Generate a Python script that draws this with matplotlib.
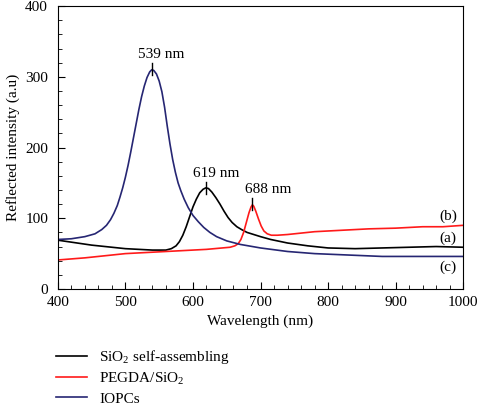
import numpy as np
import matplotlib
matplotlib.use("Agg")
import matplotlib.pyplot as plt

plt.rcParams['font.family'] = ['Liberation Serif', 'DejaVu Serif']
plt.rcParams['mathtext.fontset'] = 'custom'
plt.rcParams['mathtext.rm'] = 'Liberation Serif'
plt.rcParams['font.size'] = 11

# Data
wl_sio2 = [400, 450, 500, 540, 560, 568, 575, 580, 585, 590, 595, 600, 605, 610, 615,
           619, 623, 628, 634, 640, 646, 652, 658, 665, 672, 680, 690, 700, 715, 740,
           770, 800, 840, 880, 920, 960, 1000]
val_sio2 = [69, 62, 57, 55, 55, 57, 61, 67, 76, 88, 102, 116, 127, 136, 141,
            143, 142, 137, 129, 120, 110, 101, 94, 88, 84, 80, 77, 74, 70, 65,
            61, 58, 57, 58, 59, 60, 59]

wl_pegda = [400, 440, 480, 500, 540, 580, 620, 655, 662, 667, 671, 675, 679, 683, 686,
            688, 690, 693, 697, 701, 705, 710, 716, 725, 740, 780, 820, 860, 900, 940,
            970, 1000]
val_pegda = [41, 44, 48, 50, 52, 54, 56, 59, 61, 64, 70, 80, 94, 108, 116,
             119, 117, 110, 99, 89, 82, 78, 76, 76, 77, 81, 83, 85, 86, 88,
             88, 90]

wl_iopc = [400, 420, 440, 455, 465, 472, 478, 483, 488, 492, 496, 500, 504, 508, 512,
           516, 520, 524, 528, 532, 536, 539, 542, 546, 550, 554, 558, 562, 566, 570,
           574, 578, 582, 587, 593, 600, 608, 616, 625, 635, 650, 670, 700, 740, 780,
           830, 880, 1000]
val_iopc = [70, 71, 74, 78, 84, 90, 98, 107, 118, 130, 143, 158, 175, 194, 214,
            234, 254, 272, 287, 299, 307, 310, 309, 304, 294, 279, 257, 230, 205, 183,
            165, 150, 139, 127, 115, 104, 95, 87, 80, 74, 68, 63, 58, 53, 50,
            48, 46, 46]

peak_wl = [539, 619, 688]
peak_val = [311, 143, 120]
peak_text = ['539 nm', '619 nm', '688 nm']

curve_labels = ['(b)', '(a)', '(c)']
curve_label_y = [103, 72, 31]

fig = plt.figure(figsize=(4.78, 4.07), dpi=100)
ax = fig.add_axes([0.121, 0.29, 0.848, 0.695])

l1, = ax.plot(wl_sio2, val_sio2, color='black', lw=1.2)
l2, = ax.plot(wl_pegda, val_pegda, color='#ff1a1a', lw=1.2)
l3, = ax.plot(wl_iopc, val_iopc, color='#262673', lw=1.2)

# peak markers
for w, v, t, dx in zip(peak_wl, peak_val, peak_text, [-20, -19, -11]):
    ax.plot([w, w], [v - 8, v + 8], color='black', lw=1.0)
    ax.text(w + dx, v + 11, t, ha='left', va='bottom', fontsize=11)

for lab, y in zip(curve_labels, curve_label_y):
    ax.text(978, y, lab, ha='center', va='center', fontsize=11)

ax.set_xlim(400, 1000)
ax.set_ylim(0, 400)
ax.set_xticks(np.arange(400, 1001, 100))
ax.set_yticks(np.arange(0, 401, 100))
ax.set_xticks(np.arange(400, 1001, 20), minor=True)
ax.set_yticks(np.arange(0, 401, 20), minor=True)
ax.tick_params(which='both', direction='in', top=False, right=False, labelsize=11)
ax.tick_params(which='major', length=5)
ax.tick_params(which='minor', length=3)
ax.tick_params(axis='x', pad=5)
ax.tick_params(axis='y', pad=7)
ax.set_xlabel('Wavelength (nm)', fontsize=11)
ax.set_ylabel('Reflected intensity (a.u)', fontsize=11)

fig.legend([l1, l2, l3], ['SiO$_2$ self-assembling', 'PEGDA/SiO$_2$', 'IOPCs'],
           loc='upper left', bbox_to_anchor=(0.105, 0.16), frameon=False,
           fontsize=11, handlelength=2.0, labelspacing=0.3, borderaxespad=0,
           handletextpad=0.8)

fig.savefig('out.png', dpi=100)
